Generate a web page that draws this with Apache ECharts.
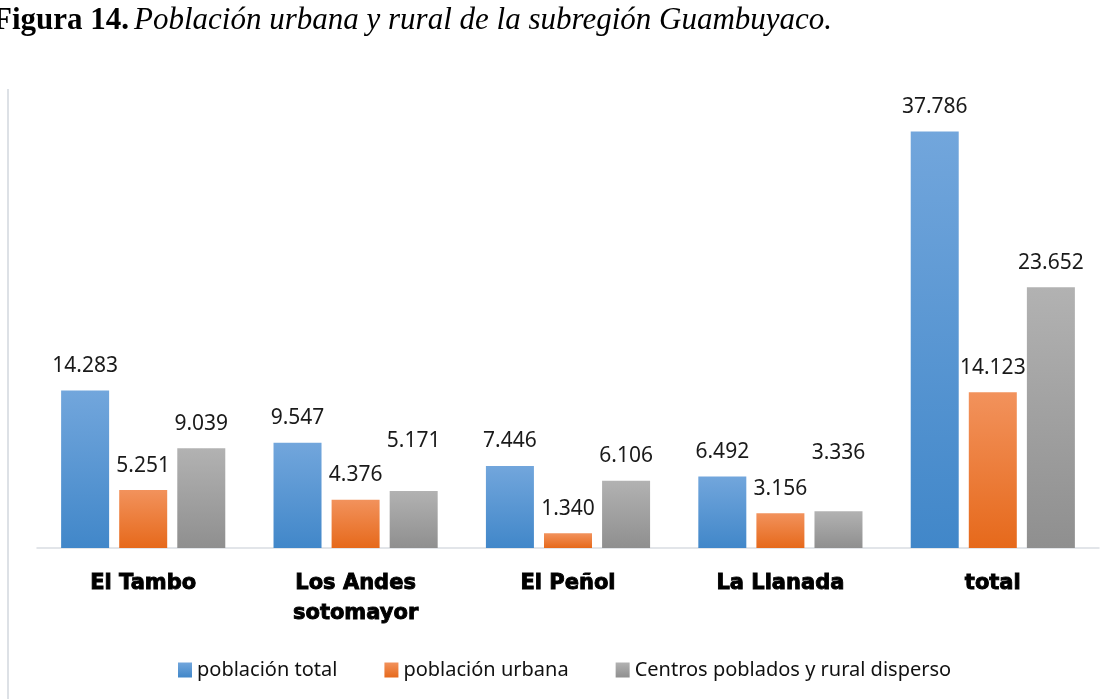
<!DOCTYPE html>
<html>
<head>
<meta charset="utf-8">
<script src="https://cdn.jsdelivr.net/npm/echarts@6/dist/echarts.min.js"></script>
<style>
html,body{margin:0;padding:0;background:#fff;}
#main{width:1112px;height:699px;}
</style>
</head>
<body>
<div id="main"></div>
<script>
// datos del grafico
var categorias = ['El Tambo', 'Los Andes\nsotomayor', 'El Peñol', 'La Llanada', 'total'];
var nombres = ['población total', 'población urbana', 'Centros poblados y rural disperso'];
var pobTotal = [14283, 9547, 7446, 6492, 37786];
var pobUrbana = [5251, 4376, 1340, 3156, 14123];
var pobRural = [9039, 5171, 6106, 3336, 23652];

// colores degradados (arriba, abajo)
var colores = [
	['#72a6dc', '#4187c9'],
	['#f2925c', '#e6691b'],
	['#b2b2b2', '#8f8f8f']
];

function degradado(c){
	return new echarts.graphic.LinearGradient(0, 0, 0, 1, [
		{offset: 0, color: c[0]},
		{offset: 1, color: c[1]}
	]);
}

// formato con punto de miles
function miles(v){
	return String(v).replace(/\B(?=(\d{3})+(?!\d))/g, '.');
}

// algunas etiquetas estan movidas hacia arriba en el original
var distExtra = {2: {1: 39, 3: 48}};

function serie(idx, valores){
	var datos = [];
	for(var i = 0; i < valores.length; i++){
		var d = {value: valores[i]};
		if(distExtra[idx] && distExtra[idx][i]){
			d.label = {distance: distExtra[idx][i]};
		}
		datos.push(d);
	}
	return {
		name: nombres[idx],
		type: 'bar',
		barWidth: 48,
		barGap: '21%',
		itemStyle: {color: degradado(colores[idx])},
		label: {
			show: true,
			position: 'top',
			distance: 14,
			color: '#1a1a1a',
			fontFamily: '"Noto Sans"',
			fontSize: 21,
			formatter: function(p){ return miles(p.value); }
		},
		data: datos
	};
}

var myChart = echarts.init(document.getElementById('main'));

var option = {
	animation: false,
	backgroundColor: '#fff',
	title: {
		left: -12,
		top: 0,
		text: '{b|Figura 14.} {i|Población urbana y rural de la subregión Guambuyaco.}',
		textStyle: {
			rich: {
				b: {fontFamily: '"Liberation Serif"', fontWeight: 'bold', fontStyle: 'normal', fontSize: 31, color: '#000'},
				i: {fontFamily: '"Liberation Serif"', fontWeight: 'normal', fontStyle: 'italic', fontSize: 31, color: '#000'}
			}
		}
	},
	graphic: [{
		type: 'line',
		shape: {x1: 8, y1: 89, x2: 8, y2: 699},
		style: {stroke: '#dde1e6', lineWidth: 2}
	}],
	legend: {
		left: 173,
		top: 655,
		itemWidth: 14,
		itemHeight: 15,
		itemGap: 47,
		icon: 'rect',
		textStyle: {
			fontFamily: '"Noto Sans"',
			fontSize: 20,
			color: '#111'
		},
		data: nombres
	},
	grid: {left: 37, right: 13, top: 107, bottom: 151},
	xAxis: {
		type: 'category',
		data: categorias,
		axisLine: {lineStyle: {color: '#d9dde2', width: 1.5}},
		axisTick: {show: false},
		axisLabel: {
			margin: 21,
			interval: 0,
			color: '#000',
			fontFamily: '"DejaVu Sans"',
			fontWeight: 'bold',
			fontSize: 21,
			lineHeight: 30,
			textBorderColor: '#000',
			textBorderWidth: 0.9
		}
	},
	yAxis: {
		type: 'value',
		min: 0,
		max: 40000,
		show: false
	},
	series: [
		serie(0, pobTotal),
		serie(1, pobUrbana),
		serie(2, pobRural)
	]
};

myChart.setOption(option);
</script>
</body>
</html>
